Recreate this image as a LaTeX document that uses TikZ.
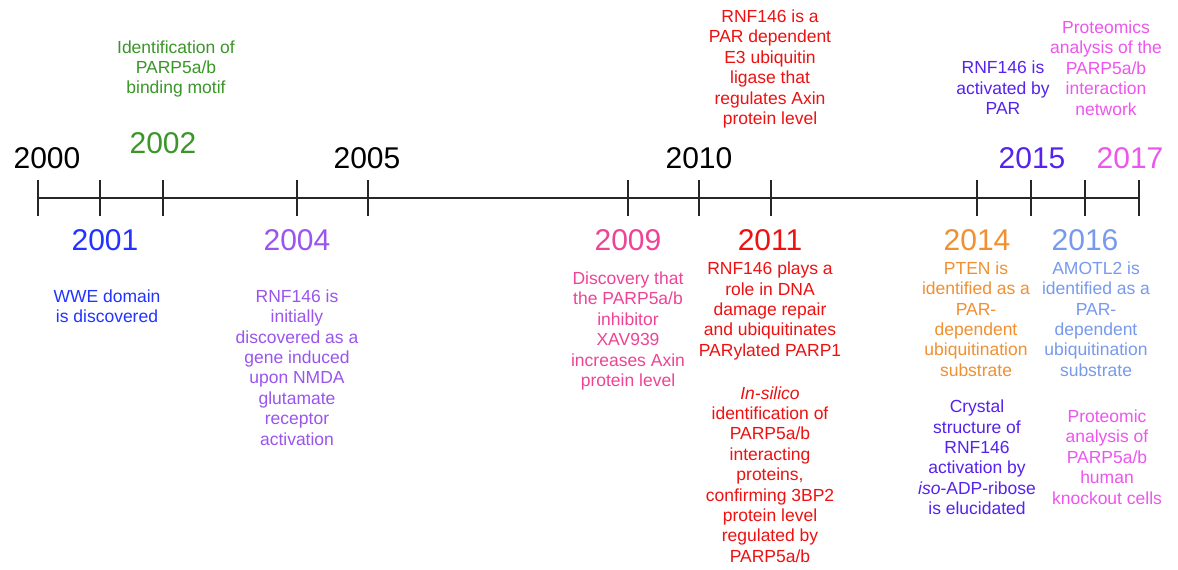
\documentclass[tikz,border=0pt]{standalone}
\usepackage{fontspec}
\setmainfont{Liberation Sans}
\definecolor{cgreen}{RGB}{58,150,40}
\definecolor{cblue}{RGB}{34,51,255}
\definecolor{cpurple}{RGB}{153,85,238}
\definecolor{cpink}{RGB}{238,68,150}
\definecolor{cred}{RGB}{238,17,17}
\definecolor{corange}{RGB}{240,144,48}
\definecolor{cindigo}{RGB}{85,34,238}
\definecolor{clblue}{RGB}{119,153,238}
\definecolor{cmagenta}{RGB}{238,85,238}
\tikzset{
  year/.style={inner sep=0pt, font=\fontsize{30}{32}\selectfont},
  desc/.style={inner sep=0pt, align=center, font=\fontsize{17.5}{20.4}\selectfont},
  tick/.style={line width=2pt, black!85},
  axis/.style={line width=2pt, black!85}
}
\begin{document}
\begin{tikzpicture}[x=1pt,y=-1pt]
\useasboundingbox (0,0) rectangle (1178,570);
\fill[white] (0,0) rectangle (1178,570);
% tick coordinates
\foreach \n/\x in {t2000/37.7,t2001/100,t2002/163,t2004/297,t2005/368,t2009/628,t2010/699,t2011/771,t2014/977,t2015/1031,t2016/1085,t2017/1139}{
  \coordinate (\n) at (\x,198);
  \draw[tick] (\x,180) -- (\x,216);
}
\draw[axis] (t2000) -- (t2017);
% year labels
\node[year] (y2000) at (47,158) {2000};
\node[year, text=cgreen] (y2002) at (163,143) {2002};
\node[year] (y2005) at (367,158) {2005};
\node[year, text=cblue] (y2001) at (105,240) {2001};
\node[year, text=cpurple] (y2004) at (297,240) {2004};
\node[year] (y2010) at (699,158) {2010};
\node[year, text=cpink] (y2009) at (628,240) {2009};
\node[year, text=cred] (y2011) at (770,240) {2011};
\node[year, text=cindigo] (y2015) at (1032,158) {2015};
\node[year, text=cmagenta] (y2017) at (1130,158) {2017};
\node[year, text=corange] (y2014) at (977,240) {2014};
\node[year, text=clblue] (y2016) at (1085,240) {2016};
% descriptions
\node[desc, text=cgreen] (d2002) at (176,69) {Identification of\\PARP5a/b\\binding motif};
\node[desc, text=cblue] (d2001) at (107,306) {WWE domain\\is discovered};
\node[desc, text=cpurple] (d2004) at (297,367.5) {RNF146 is\\initially\\discovered as a\\gene induced\\upon NMDA\\glutamate\\receptor\\activation};
\node[desc, text=cpink] (d2009) at (628,331) {Discovery that\\the PARP5a/b\\inhibitor\\XAV939\\increases Axin\\protein level};
\node[desc, text=cred] (d2011a) at (770,69) {RNF146 is a\\PAR dependent\\E3 ubiquitin\\ligase that\\regulates Axin\\protein level};
\node[desc, text=cred] (d2011b) at (770,311) {RNF146 plays a\\role in DNA\\damage repair\\and ubiquitinates\\PARylated PARP1};
\node[desc, text=cred] (d2011c) at (770,474.5) {\textit{In-silico}\\identification of\\PARP5a/b\\interacting\\proteins,\\confirming 3BP2\\protein level\\regulated by\\PARP5a/b};
\node[desc, text=corange] (d2014a) at (976,319) {PTEN is\\identified as a\\PAR-\\dependent\\ubiquitination\\substrate};
\node[desc, text=cindigo] (d2014b) at (977,457.5) {Crystal\\structure of\\RNF146\\activation by\\\textit{iso}-ADP-ribose\\is elucidated};
\node[desc, text=cindigo] (d2015) at (1003,88) {RNF146 is\\activated by\\PAR};
\node[desc, text=clblue] (d2016) at (1096,319) {AMOTL2 is\\identified as a\\PAR-\\dependent\\ubiquitination\\substrate};
\node[desc, text=cmagenta] (d2017a) at (1106,68) {Proteomics\\analysis of the\\PARP5a/b\\interaction\\network};
\node[desc, text=cmagenta] (d2017b) at (1107,457) {Proteomic\\analysis of\\PARP5a/b\\human\\knockout cells};
\end{tikzpicture}
\end{document}
